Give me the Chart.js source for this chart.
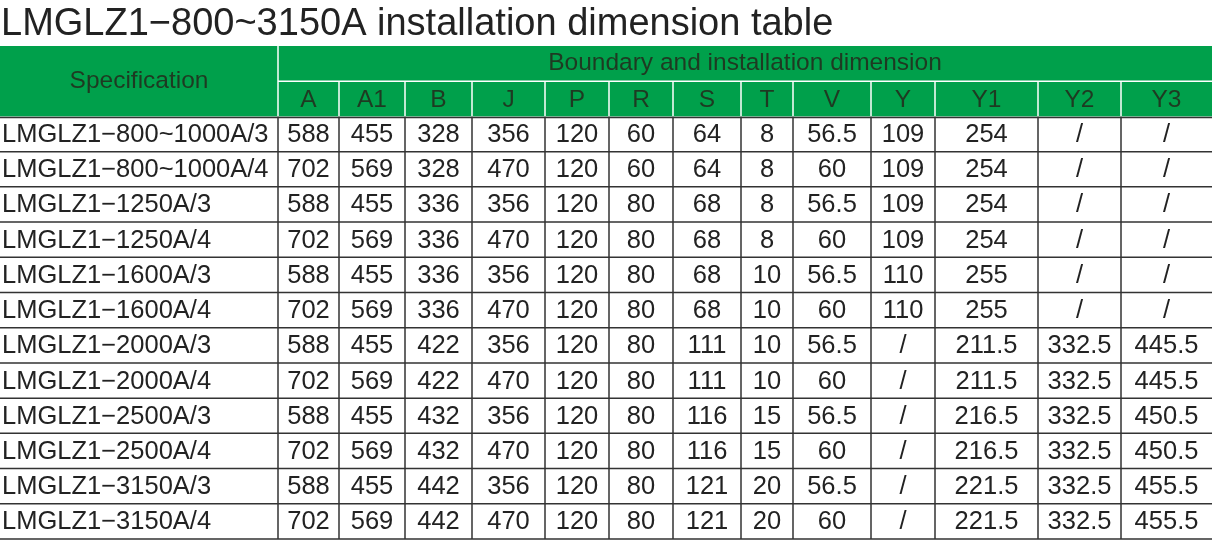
<!DOCTYPE html>
<html><head><meta charset="utf-8">
<script src="https://cdn.jsdelivr.net/npm/chart.js@4"></script>
<style>html,body{margin:0;padding:0;background:#fff}#w{width:1212px;height:541px}</style>
</head><body><div id="w"><canvas id="c"></canvas></div>
<script>
const titleText = "LMGLZ1−800~3150A installation dimension table";
const groupHeader = "Boundary and installation dimension";
const specHeader = "Specification";
const columns = ["A","A1","B","J","P","R","S","T","V","Y","Y1","Y2","Y3"];
const specs = ["LMGLZ1−800~1000A/3","LMGLZ1−800~1000A/4","LMGLZ1−1250A/3","LMGLZ1−1250A/4","LMGLZ1−1600A/3","LMGLZ1−1600A/4","LMGLZ1−2000A/3","LMGLZ1−2000A/4","LMGLZ1−2500A/3","LMGLZ1−2500A/4","LMGLZ1−3150A/3","LMGLZ1−3150A/4"];
const colA  = ["588","702","588","702","588","702","588","702","588","702","588","702"];
const colA1 = ["455","569","455","569","455","569","455","569","455","569","455","569"];
const colB  = ["328","328","336","336","336","336","422","422","432","432","442","442"];
const colJ  = ["356","470","356","470","356","470","356","470","356","470","356","470"];
const colP  = ["120","120","120","120","120","120","120","120","120","120","120","120"];
const colR  = ["60","60","80","80","80","80","80","80","80","80","80","80"];
const colS  = ["64","64","68","68","68","68","111","111","116","116","121","121"];
const colT  = ["8","8","8","8","10","10","10","10","15","15","20","20"];
const colV  = ["56.5","60","56.5","60","56.5","60","56.5","60","56.5","60","56.5","60"];
const colY  = ["109","109","109","109","110","110","/","/","/","/","/","/"];
const colY1 = ["254","254","254","254","255","255","211.5","211.5","216.5","216.5","221.5","221.5"];
const colY2 = ["/","/","/","/","/","/","332.5","332.5","332.5","332.5","332.5","332.5"];
const colY3 = ["/","/","/","/","/","/","445.5","445.5","450.5","450.5","455.5","455.5"];
const valueCols = [colA,colA1,colB,colJ,colP,colR,colS,colT,colV,colY,colY1,colY2,colY3];

// layout (style): column boundary positions on x axis
const edges = [0,278,339,405,472,545,609,673,741,793,871,935,1038,1121,1212];
const GREEN = "#00a04b", INK = "#222";

const tablePlugin = {
  id:'table',
  afterDraw(chart){
    const ctx = chart.ctx, xs = chart.scales.x, ys = chart.scales.y;
    const X = v => xs.getPixelForValue(v), Y = v => ys.getPixelForValue(v);
    ctx.save();
    ctx.fillStyle = INK; ctx.font = "38px 'Liberation Sans', Arial"; ctx.textBaseline = "alphabetic"; ctx.textAlign="left";
    ctx.fillText(titleText, 1, 35);
    ctx.fillStyle = GREEN;
    ctx.fillRect(X(0), Y(0), X(1212)-X(0), Y(2)-Y(0));
    ctx.strokeStyle = "#fff"; ctx.lineWidth = 1.5;
    ctx.beginPath();
    ctx.moveTo(X(edges[1]), Y(0)); ctx.lineTo(X(edges[1]), Y(2));
    ctx.moveTo(X(edges[1]), Y(1)); ctx.lineTo(X(1212), Y(1));
    for (let i=2;i<edges.length-1;i++){ ctx.moveTo(X(edges[i]), Y(1)); ctx.lineTo(X(edges[i]), Y(2)); }
    ctx.stroke();
    ctx.fillStyle = "#1e3a22"; ctx.textAlign="center"; ctx.textBaseline="middle";
    ctx.font = "24.5px 'Liberation Sans', Arial";
    ctx.fillText(specHeader, (X(0)+X(edges[1]))/2, Y(1));
    ctx.fillText(groupHeader, (X(edges[1])+X(1212))/2, Y(0.5));
    columns.forEach((c,i)=> ctx.fillText(c, (X(edges[i+1])+X(edges[i+2]))/2, Y(1.55)));
    ctx.fillStyle = INK; ctx.font = "25.5px 'Liberation Sans', Arial";
    specs.forEach((s,r)=>{
      const yc = Y(r+2.5)+1;
      ctx.textAlign="left"; ctx.fillText(s, X(0)+2, yc);
      ctx.textAlign="center";
      valueCols.forEach((col,i)=> ctx.fillText(col[r], (X(edges[i+1])+X(edges[i+2]))/2, yc));
    });
    ctx.strokeStyle = "#333"; ctx.lineWidth = 1.5;
    ctx.beginPath();
    for (let r=0;r<=specs.length;r++){ const y=Y(r+2)+(r===0?1:0); ctx.moveTo(X(0), y); ctx.lineTo(X(1212), y); }
    for (let i=1;i<edges.length-1;i++){ ctx.moveTo(X(edges[i]), Y(2)); ctx.lineTo(X(edges[i]), Y(specs.length+2)); }
    ctx.stroke();
    ctx.restore();
  }
};

new Chart(document.getElementById('c'), {
  type:'scatter',
  data:{datasets:[{data:[], pointRadius:0}]},
  options:{
    responsive:true, maintainAspectRatio:false, animation:false,
    layout:{padding:{top:46,bottom:2,left:0,right:0}},
    plugins:{legend:{display:false},tooltip:{enabled:false},title:{display:false}},
    scales:{
      x:{type:'linear',min:0,max:1212,display:false},
      y:{type:'linear',min:0,max:specs.length+2,reverse:true,display:false}
    }
  },
  plugins:[tablePlugin]
});
</script></body></html>
